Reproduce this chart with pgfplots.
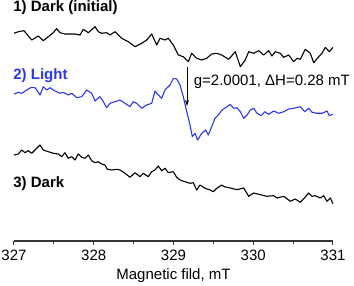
\documentclass[border=0pt]{standalone}
\usepackage{pgfplots}
\pgfplotsset{compat=1.18}
\usetikzlibrary{arrows.meta}
\usepackage{fontspec}
\setmainfont{Liberation Sans}
\definecolor{lblue}{RGB}{45,55,240}
\newcommand\fs{\fontsize{15pt}{18pt}\selectfont}
\begin{document}
\fs
\begin{tikzpicture}
\useasboundingbox (-14pt,-45pt) rectangle (340pt,241pt);
\begin{axis}[
  at={(0,0)}, anchor=south west,
  scale only axis, width=319pt, height=241pt,
  xmin=327, xmax=331, ymin=-241, ymax=0,
  axis x line=bottom, axis y line=none,
  x axis line style={-, line width=1.2pt, black!80},
  xtick={327,328,329,330,331},
  xticklabels={327,328,329,330,331},
  minor x tick num=1,
  tick align=outside,
  major tick length=4pt, minor tick length=3pt,
  tick style={black!80, line width=1pt},
  xticklabel style={anchor=base, yshift=-16pt, font=\fontsize{15pt}{18pt}\selectfont},
  xlabel={Magnetic fild, mT},
  every axis x label/.style={at={(axis description cs:0.5,0)}, anchor=base, yshift=-38.5pt},
  clip=false,
]
% 1) Dark (initial)
\addplot[black, line width=1.1pt, line join=round] coordinates {
(327.000,-33.3)(327.054,-31.7)(327.125,-30.7)(327.159,-34)(327.222,-40)(327.305,-36)(327.367,-40.7)(327.430,-36.7)(327.493,-32.7)(327.535,-28.7)(327.577,-32.7)(327.639,-34)(327.702,-34)(327.765,-34)(327.828,-35)(327.869,-29.3)(327.932,-32.7)(328.016,-26.7)(328.057,-31.7)(328.100,-33.3)(328.162,-32.7)(328.204,-35)(328.266,-31.7)(328.350,-38.3)(328.433,-41.7)(328.517,-46.7)(328.601,-43.3)(328.664,-40)(328.727,-34)(328.789,-45)(328.831,-38.3)(328.893,-40)(328.935,-38.3)(328.997,-45)(329.060,-55)(329.123,-56.7)(329.186,-61.7)(329.228,-53.3)(329.291,-58.3)(329.354,-60)(329.416,-58.3)(329.479,-54)(329.542,-53.3)(329.604,-55)(329.692,-59.3)(329.775,-51.7)(329.838,-66.7)(329.900,-60)(329.943,-51.7)(330.006,-53.3)(330.068,-50.7)(330.131,-55)(330.194,-50.7)(330.235,-56)(330.276,-51.7)(330.339,-53.3)(330.382,-57.3)(330.444,-55)(330.507,-61.7)(330.549,-58.3)(330.590,-59.3)(330.653,-49.3)(330.715,-53.3)(330.758,-62.7)(330.821,-56.7)(330.862,-53.3)(330.903,-47.3)(330.954,-51.7)(331.000,-47.3)
};
% 2) Light
\addplot[lblue, line width=1.1pt, line join=round] coordinates {
(327.000,-94)(327.054,-92.3)(327.097,-93.3)(327.159,-90)(327.209,-87.7)(327.263,-87.7)(327.285,-90)(327.326,-95)(327.367,-86.7)(327.410,-90)(327.451,-87.7)(327.514,-91)(327.577,-93.3)(327.618,-92.3)(327.681,-95)(327.724,-93.3)(327.786,-97.7)(327.849,-96.7)(327.912,-90)(327.974,-93.3)(328.016,-101)(328.078,-96.7)(328.120,-101.7)(328.162,-107.7)(328.204,-103.3)(328.266,-101.7)(328.329,-100)(328.392,-103.3)(328.455,-106.7)(328.496,-101.7)(328.539,-103.3)(328.601,-108.3)(328.664,-105)(328.727,-103.3)(328.768,-91)(328.809,-95)(328.852,-98.3)(328.893,-90)(328.956,-85)(328.997,-78.5)(329.040,-79)(329.082,-85)(329.123,-96.7)(329.166,-111.7)(329.207,-125)(329.236,-136.7)(329.270,-133.3)(329.303,-140)(329.354,-133.3)(329.404,-130)(329.436,-135)(329.479,-126.7)(329.520,-118.3)(329.562,-115)(329.608,-110)(329.671,-106.7)(329.712,-104.3)(329.755,-108.3)(329.796,-107.7)(329.838,-111.7)(329.880,-118.3)(329.922,-115)(329.963,-110)(330.006,-108.3)(330.047,-113.3)(330.101,-115.7)(330.144,-111.7)(330.194,-114.3)(330.256,-111)(330.319,-113.3)(330.382,-111.7)(330.444,-109)(330.507,-108.3)(330.590,-106.7)(330.645,-111.7)(330.695,-108.3)(330.737,-112.3)(330.799,-113.3)(330.862,-113.3)(330.925,-111)(330.954,-115.7)(330.996,-114.3)
};
% 3) Dark
\addplot[black, line width=1.1pt, line join=round] coordinates {
(327.000,-155)(327.054,-154)(327.097,-150)(327.138,-152.7)(327.179,-150.7)(327.222,-153.3)(327.263,-150)(327.326,-145)(327.367,-150)(327.430,-151.7)(327.493,-153.3)(327.555,-154)(327.598,-156.7)(327.639,-152.7)(327.681,-158.3)(327.724,-156.7)(327.765,-160)(327.806,-154)(327.849,-157.3)(327.890,-158.3)(327.932,-155)(327.974,-160.7)(328.016,-162.7)(328.057,-161.7)(328.100,-164)(328.141,-165)(328.170,-169.3)(328.225,-170)(328.288,-169.3)(328.329,-170)(328.392,-173.3)(328.455,-177.3)(328.517,-172.7)(328.580,-176.7)(328.621,-173.3)(328.684,-176.7)(328.727,-171.7)(328.768,-170)(328.809,-166)(328.852,-170.7)(328.893,-168.3)(328.935,-172.7)(328.997,-171.7)(329.040,-177.3)(329.082,-180)(329.144,-181.7)(329.207,-183.3)(329.248,-182.7)(329.291,-190)(329.332,-185)(329.395,-188.3)(329.458,-190)(329.499,-191.7)(329.542,-188.3)(329.604,-185)(329.637,-186.7)(329.712,-188)(329.796,-189.7)(329.880,-188)(329.943,-196.3)(330.006,-193)(330.088,-194.7)(330.172,-196.3)(330.256,-195.7)(330.298,-198)(330.382,-196.3)(330.465,-201.3)(330.527,-199)(330.590,-202.3)(330.653,-197)(330.695,-193)(330.737,-196.3)(330.778,-195.7)(330.841,-198)(330.883,-195.7)(330.925,-201.3)(330.966,-198)(331.000,-203.7)
};
\node[anchor=base west, inner sep=0, font=\fs\bfseries] at (axis cs:326.99,-11.7) {1) Dark (initial)};
\node[anchor=base west, inner sep=0, font=\fs\bfseries, text=lblue] at (axis cs:326.99,-79.3) {2) Light};
\node[anchor=base west, inner sep=0, font=\fs\bfseries] at (axis cs:326.99,-187.5) {3) Dark};
\node[anchor=base west, inner sep=0, font=\fs] at (axis cs:329.253,-86) {g=2.0001, ΔH=0.28 mT};
\draw[-{Stealth[length=6pt,width=4pt]}, line width=0.8pt] (axis cs:329.169,-66.7) -- (axis cs:329.169,-106);
\end{axis}
\end{tikzpicture}
\end{document}
